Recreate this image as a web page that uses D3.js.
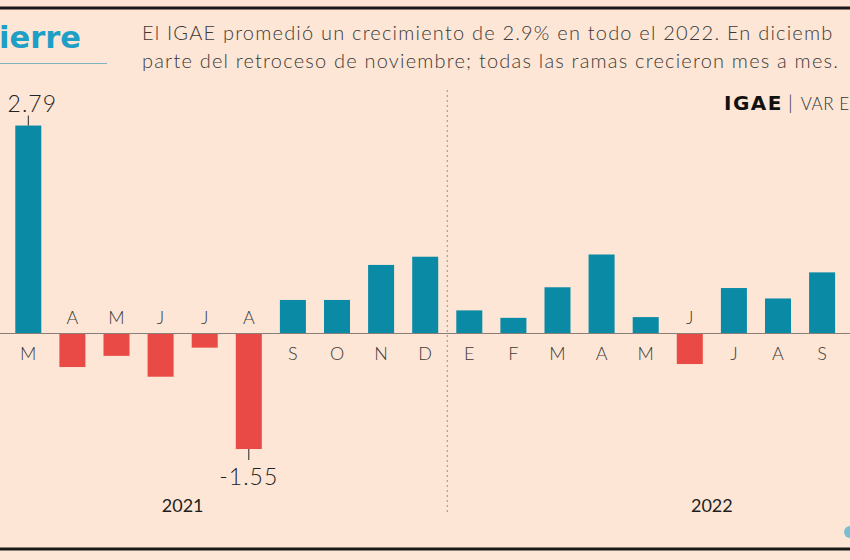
<!DOCTYPE html>
<html>
<head>
<meta charset="utf-8">
<script src="https://cdn.jsdelivr.net/npm/d3@7"></script>
<style>
  html, body { margin: 0; padding: 0; background: #fde6d6; overflow: hidden; }
  svg { display: block; }
</style>
</head>
<body>
<svg id="chart" width="850" height="560"></svg>
<script>
// ---- data ----
const months = ["M","A","M","J","J","A","S","O","N","D","E","F","M","A","M","J","J","A","S"];
const monthKeys = ["2021-03","2021-04","2021-05","2021-06","2021-07","2021-08","2021-09","2021-10","2021-11","2021-12",
                   "2022-01","2022-02","2022-03","2022-04","2022-05","2022-06","2022-07","2022-08","2022-09"];
const values = [2.79,-0.45,-0.30,-0.58,-0.19,-1.55,0.45,0.45,0.92,1.03,0.31,0.21,0.62,1.06,0.22,-0.41,0.61,0.47,0.82];
const years = ["2021","2022"];
const labelled = {"2021-03":"2.79","2021-08":"-1.55"};
const titleText = "ierre";
const subtitle = ["El IGAE promedió un crecimiento de 2.9% en todo el 2022. En diciemb",
                  "parte del retroceso de noviembre; todas las ramas crecieron mes a mes."];

// ---- layout ----
const svg = d3.select("#chart");
const W = 850, H = 560;
const bg = "#fde6d6", teal = "#0b8aa6", red = "#ea4a45", txt = "#3c3a38";
const font = "Lato, 'Open Sans', sans-serif";

svg.append("rect").attr("width", W).attr("height", H).attr("fill", bg);

// borders
svg.append("line").attr("x1",0).attr("x2",W).attr("y1",8).attr("y2",8).attr("stroke","#1a1a1a").attr("stroke-width",3);
svg.append("line").attr("x1",0).attr("x2",W).attr("y1",549).attr("y2",549).attr("stroke","#1a1a1a").attr("stroke-width",3);

// title
svg.append("text").attr("x",-1).attr("y",48).text(titleText)
  .attr("font-family","'DejaVu Sans', sans-serif").attr("font-weight","bold")
  .attr("font-size",30.5).attr("fill","#1d9fc6");
svg.append("line").attr("x1",0).attr("x2",107).attr("y1",63.5).attr("y2",63.5).attr("stroke","#7fb3bf").attr("stroke-width",1);

svg.selectAll("text.sub").data(subtitle).join("text").attr("class","sub")
  .attr("x",142).attr("y",(d,i)=>40+i*28).text(d=>d)
  .attr("font-family",font).attr("font-weight",300).attr("font-size",20)
  .attr("letter-spacing",1.2).attr("fill",txt);

// scales
const x = d3.scaleBand().domain(monthKeys).range([6.25, 6.25 + 19*44.1]).paddingInner(0.41).paddingOuter(0.205);
const y = d3.scaleLinear().domain([-1.55, 2.79]).range([332 + 1.55*75.5, 332 - 2.79*74]);

// month center for any "YYYY-MM" key (also months outside the visible window)
const mIndex = k => { const [yy, mm] = k.split("-").map(Number); return yy*12 + mm; };
const monthCenter = k => x(monthKeys[0]) + x.bandwidth()/2 + (mIndex(k) - mIndex(monthKeys[0])) * x.step();

// divider between years
const divX = (x("2021-12") + x.bandwidth() + x("2022-01"))/2;
svg.append("line").attr("x1",divX).attr("x2",divX).attr("y1",90).attr("y2",512)
  .attr("stroke","#9a8f88").attr("stroke-width",1).attr("stroke-dasharray","2,3");

// bars
svg.selectAll("rect.bar").data(values).join("rect").attr("class","bar")
  .attr("x",(d,i)=>x(monthKeys[i]))
  .attr("width",x.bandwidth())
  .attr("y",d=>y(Math.max(0,d)))
  .attr("height",d=>Math.abs(y(d)-y(0)))
  .attr("fill",d=>d>=0?teal:red);

// zero line
svg.append("line").attr("x1",0).attr("x2",W).attr("y1",y(0)).attr("y2",y(0)).attr("stroke","#8a7f78").attr("stroke-width",1.2);

// month labels
svg.selectAll("text.m").data(months).join("text").attr("class","m")
  .attr("x",(d,i)=>x(monthKeys[i])+x.bandwidth()/2)
  .attr("y",(d,i)=>values[i]>=0 ? y(0)+27 : y(0)-9)
  .attr("text-anchor","middle").text(d=>d)
  .attr("font-family",font).attr("font-weight",300).attr("font-size",18).attr("fill",txt);

// value labels with ticks
Object.entries(labelled).forEach(([k,lab])=>{
  const i = monthKeys.indexOf(k), v = values[i];
  const cx = x(k)+x.bandwidth()/2;
  if (v >= 0) {
    svg.append("line").attr("x1",cx).attr("x2",cx).attr("y1",y(v)-10).attr("y2",y(v)).attr("stroke","#222").attr("stroke-width",1);
    svg.append("text").attr("x",cx+4).attr("y",y(v)-14).attr("text-anchor","middle").text(lab)
      .attr("font-family",font).attr("font-weight",300).attr("font-size",23).attr("letter-spacing",1).attr("fill","#222");
  } else {
    svg.append("line").attr("x1",cx).attr("x2",cx).attr("y1",y(v)).attr("y2",y(v)+11).attr("stroke","#222").attr("stroke-width",1);
    svg.append("text").attr("x",cx).attr("y",y(v)+36).attr("text-anchor","middle").text(lab)
      .attr("font-family",font).attr("font-weight",300).attr("font-size",23).attr("letter-spacing",1).attr("fill","#222");
  }
});

// year labels (centred over the full calendar year)
svg.selectAll("text.yr").data(years).join("text").attr("class","yr")
  .attr("x",d=>(monthCenter(d+"-01") + monthCenter(d+"-12"))/2)
  .attr("y",512).attr("text-anchor","middle").text(d=>d)
  .attr("font-family",font).attr("font-weight","normal").attr("font-size",18).attr("fill","#1e1e1e");

// series legend
const leg = svg.append("text").attr("x",724).attr("y",110)
  .attr("font-family",font).attr("font-size",18).attr("fill","#111");
leg.append("tspan").text("IGAE").attr("font-weight","bold").attr("font-family","'DejaVu Sans', sans-serif")
  .attr("font-size",20).attr("letter-spacing",1.5);
leg.append("tspan").text("|").attr("font-weight",300).attr("fill","#333").attr("dx",5).attr("font-size",20);
leg.append("tspan").text("VAR E").attr("font-weight",300).attr("fill","#333").attr("dx",8).attr("font-size",17).attr("letter-spacing",0.5);

// logo hint
svg.append("circle").attr("cx",850).attr("cy",532).attr("r",6).attr("fill","#5ab3d0").attr("opacity",0.8);
</script>
</body>
</html>
